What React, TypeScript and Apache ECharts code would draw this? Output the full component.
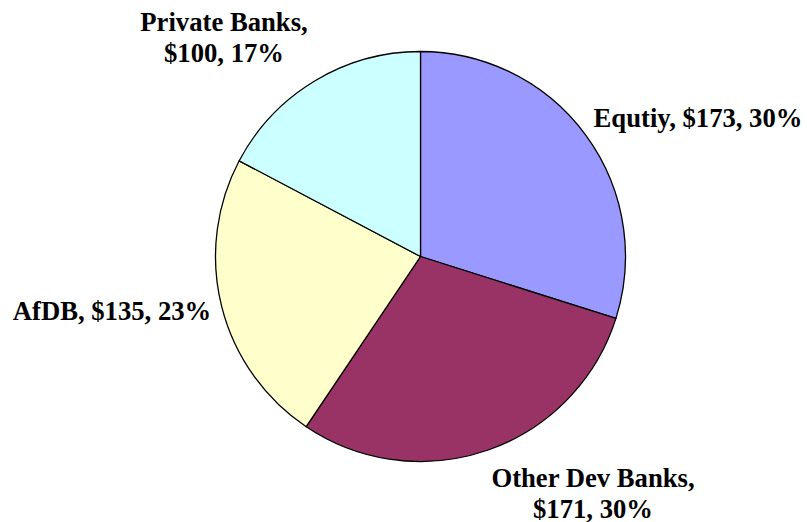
import React, { useEffect, useRef } from "react";
import * as echarts from "echarts";

const categories = ["Equtiy", "Other Dev Banks", "AfDB", "Private Banks"];
const values = [173, 171, 135, 100];
const percents = ["30%", "30%", "23%", "17%"];
const colors = ["#9999FF", "#993366", "#FFFFCC", "#CCFFFF"];
const labelLines = [false, true, false, true];
// label anchor positions (center of text block)
const labelPos: [number, number][] = [
  [698, 118],
  [593, 493],
  [112, 311],
  [224, 37],
];

export default function App() {
  const ref = useRef<HTMLDivElement>(null);
  useEffect(() => {
    if (!ref.current) return;
    const chart = echarts.init(ref.current, null, { renderer: "svg" });
    chart.setOption({
      animation: false,
      backgroundColor: "#ffffff",
      series: [
        {
          type: "pie",
          center: [420.5, 256.5],
          radius: 205,
          startAngle: 90,
          clockwise: true,
          avoidLabelOverlap: false,
          itemStyle: { borderColor: "#000000", borderWidth: 1.3 },
          emphasis: { disabled: true },
          label: {
            show: true,
            position: "outside",
            fontFamily: "Liberation Serif, Times New Roman, serif",
            fontWeight: "bold",
            fontSize: 26.67,
            color: "#000000",
            lineHeight: 31,
            align: "center",
            formatter: (p: any) =>
              labelLines[p.dataIndex]
                ? `${categories[p.dataIndex]},\n$${values[p.dataIndex]}, ${percents[p.dataIndex]}`
                : `${categories[p.dataIndex]}, $${values[p.dataIndex]}, ${percents[p.dataIndex]}`,
          },
          labelLine: { show: false },
          labelLayout: (params: any) => ({
            x: labelPos[params.dataIndex][0],
            y: labelPos[params.dataIndex][1],
            align: "center",
            verticalAlign: "middle",
          }),
          data: categories.map((c, i) => ({
            name: c,
            value: values[i],
            itemStyle: { color: colors[i] },
          })),
        },
      ],
    });
    return () => chart.dispose();
  }, []);
  return (
    <div
      ref={ref}
      style={{ position: "fixed", left: 0, top: 0, width: 807, height: 522 }}
    />
  );
}
